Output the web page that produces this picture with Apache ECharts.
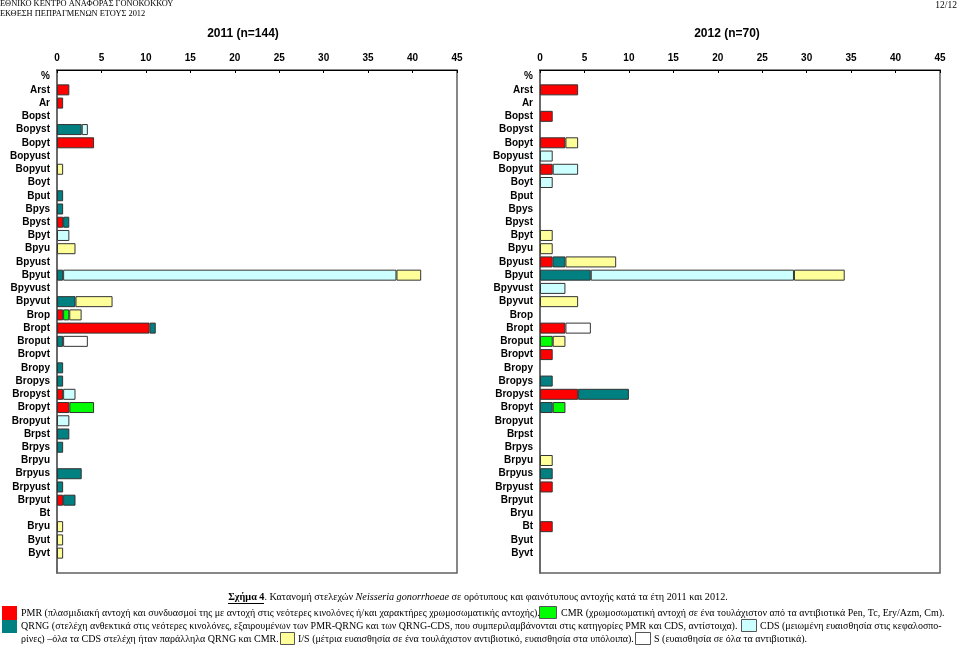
<!DOCTYPE html>
<html>
<head>
<meta charset="utf-8">
<script src="https://cdn.jsdelivr.net/npm/echarts@6/dist/echarts.min.js"></script>
<style>html,body{margin:0;padding:0;background:#fff}#c{width:959px;height:646px}</style>
</head>
<body>
<div id="c"></div>
<script>
var _ = null;
// categories (y axis), top to bottom; last slot empty
var cats2011 = ['%','Arst','Ar','Bopst','Bopyst','Bopyt','Bopyust','Bopyut','Boyt','Bput','Bpys','Bpyst','Bpyt','Bpyu','Bpyust','Bpyut','Bpyvust','Bpyvut','Brop','Bropt','Broput','Bropvt','Bropy','Bropys','Bropyst','Bropyt','Bropyut','Brpst','Brpys','Brpyu','Brpyus','Brpyust','Brpyut','Bt','Bryu','Byut','Byvt',''];
var cats2012 = ['%','Arst','Ar','Bopst','Bopyst','Bopyt','Bopyust','Bopyut','Boyt','Bput','Bpys','Bpyst','Bpyt','Bpyu','Bpyust','Bpyut','Bpyvust','Bpyvut','Brop','Bropt','Broput','Bropvt','Bropy','Bropys','Bropyst','Bropyt','Bropyut','Brpst','Brpys','Brpyu','Brpyus','Brpyust','Brpyut','Bryu','Bt','Byut','Byvt',''];
var xTicks = [0,5,10,15,20,25,30,35,40,45];

// 2011 (n=144), %
var pmr2011  = [_,1.39,0.69,_,_,4.17,_,_,_,_, _,0.69,_,_,_,_,_,_,0.69,10.42, _,_,_,_,0.69,1.39,_,_,_,_, _,_,0.69,_,_,_,_,_];
var qrng2011 = [_,_,_,_,2.78,_,_,_,_,0.69, 0.69,0.69,_,_,_,0.69,_,2.08,_,0.69, 0.69,_,0.69,0.69,_,_,_,1.39,0.69,_, 2.78,0.69,1.39,_,_,_,_,_];
var cmr2011  = [_,_,_,_,_,_,_,_,_,_, _,_,_,_,_,_,_,_,0.69,_, _,_,_,_,_,2.78,_,_,_,_, _,_,_,_,_,_,_,_];
var cds2011  = [_,_,_,_,0.69,_,_,_,_,_, _,_,1.39,_,_,37.5,_,_,_,_, _,_,_,_,1.39,_,1.39,_,_,_, _,_,_,_,_,_,_,_];
var is2011   = [_,_,_,_,_,_,_,0.69,_,_, _,_,_,2.08,_,2.78,_,4.17,1.39,_, _,_,_,_,_,_,_,_,_,_, _,_,_,_,0.69,0.69,0.69,_];
var s2011    = [_,_,_,_,_,_,_,_,_,_, _,_,_,_,_,_,_,_,_,_, 2.78,_,_,_,_,_,_,_,_,_, _,_,_,_,_,_,_,_];

// 2012 (n=70), %
var pmr2012  = [_,4.29,_,1.43,_,2.86,_,1.43,_,_, _,_,_,_,1.43,_,_,_,_,2.86, _,1.43,_,_,4.29,_,_,_,_,_, _,1.43,_,_,1.43,_,_,_];
var qrng2012 = [_,_,_,_,_,_,_,_,_,_, _,_,_,_,1.43,5.71,_,_,_,_, _,_,_,1.43,5.71,1.43,_,_,_,_, 1.43,_,_,_,_,_,_,_];
var cmr2012  = [_,_,_,_,_,_,_,_,_,_, _,_,_,_,_,_,_,_,_,_, 1.43,_,_,_,_,1.43,_,_,_,_, _,_,_,_,_,_,_,_];
var cds2012  = [_,_,_,_,_,_,1.43,2.86,1.43,_, _,_,_,_,_,22.86,2.86,_,_,_, _,_,_,_,_,_,_,_,_,_, _,_,_,_,_,_,_,_];
var is2012   = [_,_,_,_,_,1.43,_,_,_,_, _,_,1.43,1.43,5.71,5.71,_,4.29,_,_, 1.43,_,_,_,_,_,_,_,_,1.43, _,_,_,_,_,_,_,_];
var s2012    = [_,_,_,_,_,_,_,_,_,_, _,_,_,_,_,_,_,_,_,2.86, _,_,_,_,_,_,_,_,_,_, _,_,_,_,_,_,_,_];

var colors = {PMR:'#FF0000', QRNG:'#008080', CMR:'#00FF00', CDS:'#CCFFFF', IS:'#FFFF99', S:'#FFFFFF'};
var sers2011 = [['PMR',pmr2011],['QRNG',qrng2011],['CMR',cmr2011],['CDS',cds2011],['IS',is2011],['S',s2011]];
var sers2012 = [['PMR',pmr2012],['QRNG',qrng2012],['CMR',cmr2012],['CDS',cds2012],['IS',is2012],['S',s2012]];

var lblFont = {fontFamily:'Liberation Sans, Arial, sans-serif', fontWeight:'bold', fontSize:10, color:'#000'};
function xAx(i){
  return {gridIndex:i, type:'value', position:'top', min:0, max:45, interval:5,
    axisLine:{show:true, lineStyle:{color:'#000', width:1}},
    axisTick:{show:true, inside:true, length:3, lineStyle:{color:'#000'}},
    splitLine:{show:false},
    axisLabel:Object.assign({margin:7, formatter:function(v){return xTicks.indexOf(v)>=0?String(v):'';}}, lblFont)};
}
function yAx(i,cats){
  return {gridIndex:i, type:'category', inverse:true, data:cats,
    axisLine:{show:true, lineStyle:{color:'#606060', width:1.5}},
    axisTick:{show:false},
    axisLabel:Object.assign({margin:7, interval:0}, lblFont)};
}
var series = [];
function addSeries(list, idx, stackName){
  list.forEach(function(p){
    series.push({type:'bar', name:p[0]+stackName, xAxisIndex:idx, yAxisIndex:idx, stack:stackName,
      data:p[1], barWidth:11, silent:true,
      itemStyle:{color:colors[p[0]], borderColor:'#333', borderWidth:1}});
  });
}
addSeries(sers2011,0,'a');
addSeries(sers2012,1,'b');

var serif = 'Liberation Serif, Times New Roman, serif';
function txt(x,y,s){return {type:'text', x:x, y:y, style:{text:s, verticalAlign:'middle', fontFamily:serif, fontSize:10, fill:'#000'}};}
function box(x,y,w,h,c){return {type:'rect', shape:{x:x, y:y, width:w, height:h}, style:{fill:c, stroke:'#555', lineWidth:1}};}
var graphic = [
  {type:'text', left:0, top:0, style:{text:'ΕΘΝΙΚΟ ΚΕΝΤΡΟ ΑΝΑΦΟΡΑΣ ΓΟΝΟΚΟΚΚΟΥ', fontFamily:serif, fontSize:8.4, fill:'#000'}},
  {type:'text', left:0, top:10, style:{text:'ΕΚΘΕΣΗ ΠΕΠΡΑΓΜΕΝΩΝ ΕΤΟΥΣ 2012', fontFamily:serif, fontSize:8.4, fill:'#000'}},
  {type:'text', right:2, top:0, style:{text:'12/12', fontFamily:serif, fontSize:9.5, fill:'#000'}},
  {type:'text', x:478, y:597, style:{text:'{b|Σχήμα 4}{n|. Κατανομή στελεχών }{i|Neisseria gonorrhoeae}{n| σε ορότυπους και φαινότυπους αντοχής κατά τα έτη 2011 και 2012.}',
     align:'center', verticalAlign:'middle', fontFamily:serif, fontSize:10.2, fill:'#000',
     rich:{b:{fontFamily:serif,fontSize:10.2,fontWeight:'bold'}, n:{fontFamily:serif,fontSize:10.2}, i:{fontFamily:serif,fontSize:10.2,fontStyle:'italic'}}}},
  {type:'line', shape:{x1:228, y1:603.5, x2:264, y2:603.5}, style:{stroke:'#000', lineWidth:1}},
  // legend
  {type:'rect', shape:{x:2, y:606, width:15, height:14}, style:{fill:colors.PMR}},
  {type:'rect', shape:{x:2, y:620, width:15, height:13}, style:{fill:colors.QRNG}},
  txt(21,613,'PMR (πλασμιδιακή αντοχή και συνδυασμοί της με αντοχή στις νεότερες κινολόνες ή/και χαρακτήρες χρωμοσωματικής αντοχής).'),
  box(539.5,606.5,17,12,colors.CMR),
  txt(561,613,'CMR (χρωμοσωματική αντοχή σε ένα τουλάχιστον από τα αντιβιοτικά Pen, Tc, Ery/Azm, Cm).'),
  txt(21,626,'QRNG (στελέχη ανθεκτικά στις νεότερες κινολόνες, εξαιρουμένων των PMR-QRNG και των QRNG-CDS, που συμπεριλαμβάνονται στις κατηγορίες PMR και CDS, αντίστοιχα).'),
  box(741.5,619.5,15,12,colors.CDS),
  txt(760,626,'CDS (μειωμένη ευαισθησία στις κεφαλοσπο-'),
  txt(21,639,'ρίνες) –όλα τα CDS στελέχη ήταν παράλληλα QRNG και CMR.'),
  box(280.5,632.5,14,12,colors.IS),
  txt(298,639,'I/S (μέτρια ευαισθησία σε ένα τουλάχιστον αντιβιοτικό, ευαισθησία στα υπόλοιπα).'),
  box(635.5,632.5,15,12,colors.S),
  txt(654,639,'S (ευαισθησία σε όλα τα αντιβιοτικά).')
];

var chart = echarts.init(document.getElementById('c'), null, {renderer:'canvas'});
chart.setOption({
  animation:false,
  backgroundColor:'#fff',
  title:[
    {text:'2011 (n=144)', left:238, top:23, textAlign:'center', textStyle:{fontFamily:'Liberation Sans, Arial, sans-serif', fontWeight:'bold', fontSize:12, color:'#000'}},
    {text:'2012 (n=70)', left:722, top:23, textAlign:'center', textStyle:{fontFamily:'Liberation Sans, Arial, sans-serif', fontWeight:'bold', fontSize:12, color:'#000'}}
  ],
  grid:[
    {left:57, top:70, width:400, height:503, show:true, borderColor:'#606060', borderWidth:1.5, backgroundColor:'transparent'},
    {left:540, top:70, width:400, height:503, show:true, borderColor:'#606060', borderWidth:1.5, backgroundColor:'transparent'}
  ],
  xAxis:[xAx(0), xAx(1)],
  yAxis:[yAx(0,cats2011), yAx(1,cats2012)],
  series:series,
  graphic:graphic
});
</script>
</body>
</html>
